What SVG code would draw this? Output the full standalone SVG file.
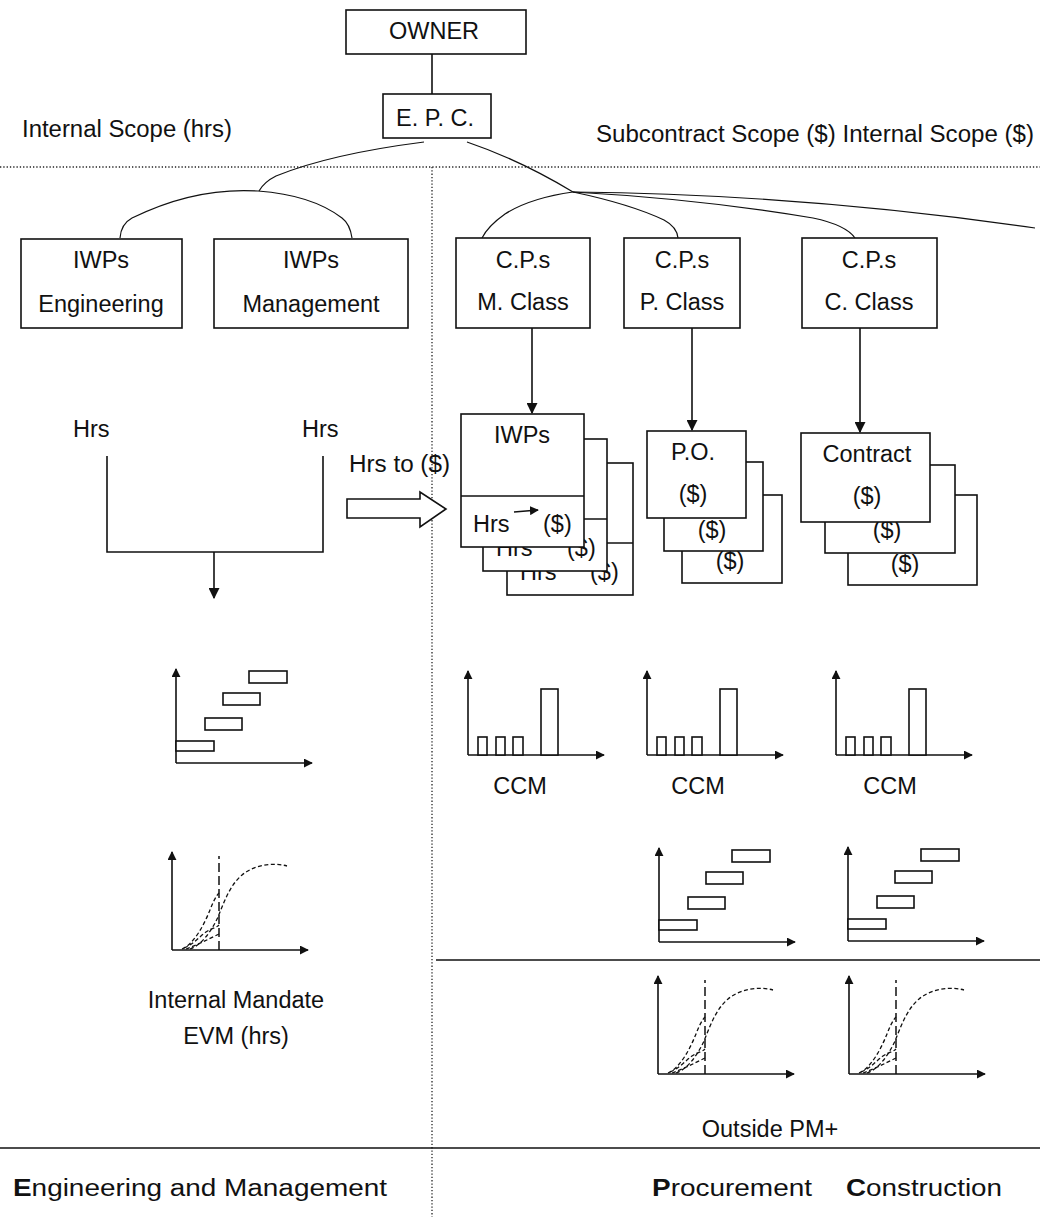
<svg xmlns="http://www.w3.org/2000/svg" width="1040" height="1217" viewBox="0 0 1040 1217">
<style>
.bg{fill:#fff}
.box{fill:#fff;stroke:#111;stroke-width:1.6}
.ln{fill:none;stroke:#111;stroke-width:1.6}
.thin{fill:none;stroke:#111;stroke-width:1.2}
.dot{fill:none;stroke:#222;stroke-width:1.3;stroke-dasharray:1.3 2}
.dsh{fill:none;stroke:#111;stroke-width:1.3;stroke-dasharray:4 2.5}
.vd{fill:none;stroke:#111;stroke-width:1.5;stroke-dasharray:9 4}
.bar{fill:#fff;stroke:#111;stroke-width:1.6}
.t{font-family:"Liberation Sans",Arial,sans-serif;font-size:23.5px;fill:#111}
.c{text-anchor:middle}
.b{font-weight:bold}
</style>
<defs>
<marker id="ah" viewBox="0 0 10 10" refX="9" refY="5" markerWidth="11" markerHeight="11" markerUnits="userSpaceOnUse" orient="auto">
<path d="M0,0 L10,5 L0,10 z" fill="#111"/>
</marker>
<marker id="ahs" viewBox="0 0 10 10" refX="9" refY="5" markerWidth="9" markerHeight="9" markerUnits="userSpaceOnUse" orient="auto">
<path d="M0,0 L10,5 L0,10 z" fill="#111"/>
</marker>
<g id="gantt">
<line class="ln" x1="0" y1="0" x2="0" y2="-94" marker-end="url(#ahs)"/>
<line class="ln" x1="0" y1="0" x2="136" y2="0" marker-end="url(#ahs)"/>
<rect class="bar" x="0" y="-22" width="38" height="10"/>
<rect class="bar" x="29" y="-45" width="37" height="12"/>
<rect class="bar" x="47" y="-70" width="37" height="12"/>
<rect class="bar" x="73" y="-92" width="38" height="12"/>
</g>
<g id="evm">
<line class="ln" x1="0" y1="0" x2="0" y2="-98" marker-end="url(#ahs)"/>
<line class="ln" x1="0" y1="0" x2="136" y2="0" marker-end="url(#ahs)"/>
<line class="vd" x1="47" y1="0" x2="47" y2="-94"/>
<path class="dsh" d="M18,-1 C30,-5 40,-20 46,-33 C52,-48 58,-65 70,-75 C82,-85 100,-88 115,-84"/>
<path class="dsh" d="M10,-1 C22,-6 32,-25 38,-40 C41,-48 44,-54 47,-57"/>
<path class="dsh" d="M12,-2 C22,-6 28,-14 34,-18 C40,-22 44,-22 47,-25"/>
<path class="dsh" d="M14,-1 C25,-5 35,-10 47,-16"/>
</g>
<g id="ccm">
<line class="ln" x1="0" y1="0" x2="0" y2="-84" marker-end="url(#ahs)"/>
<line class="ln" x1="0" y1="0" x2="136" y2="0" marker-end="url(#ahs)"/>
<rect class="bar" x="10" y="-18" width="9" height="18"/>
<rect class="bar" x="28" y="-18" width="9" height="18"/>
<rect class="bar" x="45" y="-18" width="10" height="18"/>
<rect class="bar" x="73" y="-66" width="17" height="66"/>
</g>
</defs>
<rect class="bg" x="0" y="0" width="1040" height="1217"/>

<g id="dividers">
<line class="dot" x1="0" y1="167" x2="1040" y2="167"/>
<line class="dot" x1="432" y1="167" x2="432" y2="1217"/>
<line class="ln" x1="436" y1="960" x2="1040" y2="960"/>
<line class="ln" x1="0" y1="1148" x2="1040" y2="1148"/>
</g>

<g id="labels">
<text class="t" x="22" y="137" textLength="210" lengthAdjust="spacingAndGlyphs">Internal Scope (hrs)</text>
<text class="t" x="596" y="142" textLength="438" lengthAdjust="spacingAndGlyphs">Subcontract Scope ($)  Internal Scope ($)</text>
<text class="t" x="73" y="437">Hrs</text>
<text class="t" x="302" y="437">Hrs</text>
<text class="t" x="349" y="472" textLength="101" lengthAdjust="spacingAndGlyphs">Hrs to ($)</text>
<text class="t c" x="520" y="794">CCM</text>
<text class="t c" x="698" y="794">CCM</text>
<text class="t c" x="890" y="794">CCM</text>
<text class="t c" x="236" y="1008">Internal Mandate</text>
<text class="t c" x="236" y="1044">EVM (hrs)</text>
<text class="t c" x="770" y="1137">Outside PM+</text>
<text class="t" x="13" y="1196" textLength="374" lengthAdjust="spacingAndGlyphs"><tspan class="b">E</tspan>ngineering and Management</text>
<text class="t" x="652" y="1196" textLength="160" lengthAdjust="spacingAndGlyphs"><tspan class="b">P</tspan>rocurement</text>
<text class="t" x="846" y="1196" textLength="156" lengthAdjust="spacingAndGlyphs"><tspan class="b">C</tspan>onstruction</text>
</g>

<g id="connectors">
<line class="ln" x1="432" y1="54" x2="432" y2="94"/>
<path class="thin" d="M424,142 Q330,154 276,176 Q264,182 259,191"/>
<path class="thin" d="M120,238 Q121,224 132,218 Q195,187 258,191 Q312,195 342,218 Q350,224 352,238"/>
<path class="thin" d="M467,142 Q520,160 573,192"/>
<path class="thin" d="M573,192 Q530,198 505,214 Q488,226 482,238"/>
<path class="thin" d="M573,192 Q630,204 664,220 Q677,227 678,238"/>
<path class="thin" d="M573,192 Q700,199 813,218 Q846,225 855,238"/>
<path class="thin" d="M573,192 Q800,194 1035,228"/>
<line class="ln" x1="532" y1="328" x2="532" y2="413" marker-end="url(#ah)"/>
<line class="ln" x1="692" y1="328" x2="692" y2="430" marker-end="url(#ah)"/>
<line class="ln" x1="860" y1="328" x2="860" y2="432" marker-end="url(#ah)"/>
<path class="ln" d="M107,456 L107,552 L323,552 L323,456"/>
<line class="ln" x1="214" y1="552" x2="214" y2="598" marker-end="url(#ah)"/>
<polygon class="box" points="347,499 420,499 420,492 446,509 420,527 420,518 347,518"/>
</g>

<g id="owner">
<rect class="box" x="346" y="10" width="180" height="44"/>
<text class="t c" x="434" y="39">OWNER</text>
</g>
<g id="epc">
<rect class="box" x="383" y="94" width="108" height="44"/>
<text class="t c" x="435" y="126">E. P. C.</text>
</g>
<g id="iwps-eng">
<rect class="box" x="21" y="239" width="161" height="89"/>
<text class="t c" x="101" y="268">IWPs</text>
<text class="t c" x="101" y="312">Engineering</text>
</g>
<g id="iwps-mgmt">
<rect class="box" x="214" y="239" width="194" height="89"/>
<text class="t c" x="311" y="268">IWPs</text>
<text class="t c" x="311" y="312">Management</text>
</g>
<g id="cps-m">
<rect class="box" x="456" y="238" width="134" height="90"/>
<text class="t c" x="523" y="268">C.P.s</text>
<text class="t c" x="523" y="310">M. Class</text>
</g>
<g id="cps-p">
<rect class="box" x="624" y="238" width="116" height="90"/>
<text class="t c" x="682" y="268">C.P.s</text>
<text class="t c" x="682" y="310">P. Class</text>
</g>
<g id="cps-c">
<rect class="box" x="802" y="238" width="135" height="90"/>
<text class="t c" x="869" y="268">C.P.s</text>
<text class="t c" x="869" y="310">C. Class</text>
</g>

<g id="iwps-stack">
<rect class="box" x="507" y="463" width="126" height="132"/>
<line class="ln" x1="507" y1="543" x2="633" y2="543"/>
<text class="t" x="520" y="580">Hrs</text>
<text class="t" x="590" y="580">($)</text>
<rect class="box" x="483" y="439" width="124" height="132"/>
<line class="ln" x1="483" y1="519" x2="607" y2="519"/>
<text class="t" x="496" y="556">Hrs</text>
<text class="t" x="567" y="556">($)</text>
<rect class="box" x="461" y="414" width="123" height="133"/>
<line class="ln" x1="461" y1="496" x2="584" y2="496"/>
<text class="t c" x="522" y="443">IWPs</text>
<text class="t" x="473" y="532">Hrs</text>
<line class="ln" x1="514" y1="512" x2="538" y2="510" marker-end="url(#ahs)"/>
<text class="t" x="543" y="532">($)</text>
</g>
<g id="po-stack">
<rect class="box" x="682" y="495" width="100" height="88"/>
<text class="t c" x="730" y="569">($)</text>
<rect class="box" x="664" y="462" width="99" height="89"/>
<text class="t c" x="712" y="538">($)</text>
<rect class="box" x="647" y="431" width="99" height="87"/>
<text class="t c" x="693" y="460">P.O.</text>
<text class="t c" x="693" y="502">($)</text>
</g>
<g id="contract-stack">
<rect class="box" x="848" y="495" width="129" height="90"/>
<text class="t c" x="905" y="572">($)</text>
<rect class="box" x="825" y="465" width="130" height="88"/>
<text class="t c" x="887" y="538">($)</text>
<rect class="box" x="801" y="433" width="129" height="89"/>
<text class="t c" x="867" y="462">Contract</text>
<text class="t c" x="867" y="504">($)</text>
</g>

<g id="charts">
<use href="#gantt" x="176" y="763"/>
<use href="#gantt" x="659" y="942"/>
<use href="#gantt" x="848" y="941"/>
<use href="#ccm" x="468" y="755"/>
<use href="#ccm" x="647" y="755"/>
<use href="#ccm" x="836" y="755"/>
<use href="#evm" x="172" y="950"/>
<use href="#evm" x="658" y="1074"/>
<use href="#evm" x="849" y="1074"/>
</g>
</svg>
